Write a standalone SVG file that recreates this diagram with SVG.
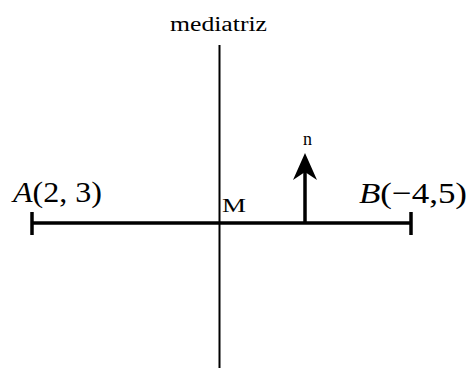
<svg xmlns="http://www.w3.org/2000/svg" width="468" height="368" viewBox="0 0 468 368">
<style>
.t{font-family:"Liberation Serif","Times New Roman",serif;fill:#000}
.ln{stroke:#000;fill:none}
</style>
<rect width="468" height="368" fill="#fff"/>
<g id="connectors">
<line class="ln" x1="219.5" y1="45" x2="219.5" y2="368" stroke-width="2"/>
<line class="ln" x1="32" y1="223" x2="411" y2="223" stroke-width="3.5"/>
<line class="ln" x1="32" y1="212" x2="32" y2="235" stroke-width="3.5"/>
<line class="ln" x1="411" y1="212" x2="411" y2="235" stroke-width="3.5"/>
<line class="ln" x1="305" y1="223" x2="305" y2="170" stroke-width="3.5"/>
<path d="M305,153 L317,180 L305,172 L293,180 Z" fill="#000"/>
</g>
<g id="mediatriz"><text class="t" x="170" y="31" font-size="20" textLength="97" lengthAdjust="spacingAndGlyphs">mediatriz</text></g>
<g id="A"><text class="t" x="13" y="202" font-size="30" textLength="89" lengthAdjust="spacingAndGlyphs"><tspan font-style="italic">A</tspan>(2, 3)</text></g>
<g id="B"><text class="t" x="359" y="203" font-size="30" textLength="108" lengthAdjust="spacingAndGlyphs"><tspan font-style="italic">B</tspan>(−4,5)</text></g>
<g id="M"><text class="t" x="222" y="212" font-size="19" textLength="24" lengthAdjust="spacingAndGlyphs">M</text></g>
<g id="n"><text class="t" x="303" y="145" font-size="18">n</text></g>
</svg>
